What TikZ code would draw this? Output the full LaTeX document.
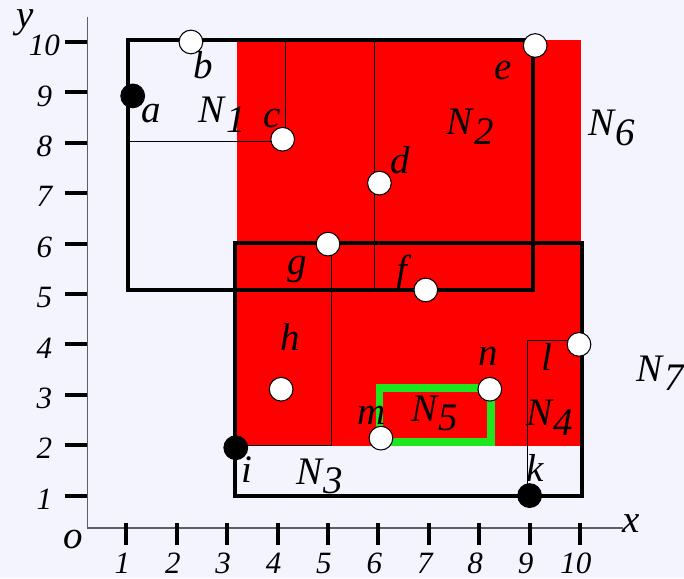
\documentclass[tikz,border=0pt]{standalone}
\usepackage{fontspec}
\setmainfont{Liberation Serif}
\usetikzlibrary{positioning}
\definecolor{bgpaper}{RGB}{244,244,255}
\definecolor{boxgreen}{RGB}{30,230,30}
\definecolor{axisgray}{RGB}{95,95,95}
\newcommand{\Nsub}[1]{N\kern0.04em\raisebox{-0.25em}{#1}}

\begin{document}
\begin{tikzpicture}[
  pt/.style={circle, draw=black, line width=0.6pt, minimum size=0.47cm, inner sep=0pt},
  openpt/.style={pt, fill=white},
  fullpt/.style={pt, fill=black},
  lbl/.style={font=\fontsize{22}{22}\selectfont\itshape, inner sep=0pt},
  ticklbl/.style={font=\fontsize{17.5}{17.5}\selectfont\itshape, inner sep=0pt},
  thinline/.style={line width=0.6pt},
  thickline/.style={line width=2.3pt},
  tickmark/.style={line width=2.2pt},
  axisline/.style={axisgray, line width=0.8pt}
]
\fill[bgpaper] (-1.508,-0.635) rectangle (12.063,10.833);
\useasboundingbox (-1.508,-0.635) rectangle (12.063,10.833);

\coordinate (o) at (0.225,0.36);
\coordinate (ytop) at (0.225,10.5);
\coordinate (xend) at (10.85,0.36);
\draw[axisline] (ytop) -- (o) -- (xend);
\foreach \k in {1,...,10} {
  \draw[tickmark] (-0.22,\k) -- (0.225,\k);
  \node[ticklbl] at (-0.63,\k-0.07) {\k};
  \draw[tickmark] (\k,0.46) -- (\k,0.02);
  \node[ticklbl] at (\k-0.08,-0.34) {\k};
}
\node[lbl] (olbl) at (-0.06,0.12) {o};
\node[lbl] (xlbl) at (11.02,0.44) {x};
\node[lbl] (ylbl) at (-1.01,10.38) {y};

\fill[red] (3.19,1.99) rectangle (10.02,10.04);

\draw[thinline] (1.04,8.02) -- (4.16,8.02) -- (4.16,10.04);
\draw[thinline] (5.93,10.04) -- (5.93,5.08);
\draw[thinline] (3.15,1.99) rectangle (5.06,6.02);
\draw[thinline] (8.96,1.0) -- (8.96,4.07) -- (10.03,4.07);

\draw[thickline] (1.04,5.08) rectangle (9.06,10.04);
\draw[thickline] (3.15,1.0) rectangle (10.03,6.02);
\draw[boxgreen, line width=4.4pt] (6.02,2.07) rectangle (8.23,3.14);

\node[fullpt] (a) at (1.125,8.93) {};
\node[openpt] (b) at (2.28,10.0) {};
\node[openpt] (c) at (4.1,8.07) {};
\node[openpt] (d) at (6.02,7.2) {};
\node[openpt] (e) at (9.11,9.93) {};
\node[openpt] (f) at (6.94,5.08) {};
\node[openpt] (g) at (5.0,5.99) {};
\node[openpt] (h) at (4.07,3.11) {};
\node[fullpt] (i) at (3.17,1.95) {};
\node[fullpt] (k) at (9.0,1.0) {};
\node[openpt] (l) at (9.98,4.0) {};
\node[openpt] (m) at (6.05,2.14) {};
\node[openpt] (n) at (8.21,3.11) {};

\node[lbl] (la) at (1.50,8.59) {a};
\node[lbl] (lb) at (2.52,9.54) {b};
\node[lbl] (lc) at (3.90,8.49) {c};
\node[lbl] (ld) at (6.43,7.66) {d};
\node[lbl] (le) at (8.48,9.44) {e};
\node[lbl] (lf) at (6.46,5.41) {f};
\node[lbl] (lg) at (4.38,5.48) {g};
\node[lbl] (lh) at (4.26,4.15) {h};
\node[lbl] (li) at (3.39,1.51) {i};
\node[lbl] (lk) at (9.11,1.54) {k};
\node[lbl] (ll) at (9.35,3.76) {l};
\node[lbl] (lm) at (5.87,2.60) {m};
\node[lbl] (ln) at (8.18,3.76) {n};

\node[lbl] (N1) at (2.90,8.55) {\Nsub{1}};
\node[lbl] (N2) at (7.82,8.32) {\Nsub{2}};
\node[lbl] (N3) at (4.84,1.38) {\Nsub{3}};
\node[lbl] (N4) at (9.40,2.54) {\Nsub{4}};
\node[lbl] (N5) at (7.12,2.63) {\Nsub{5}};
\node[lbl] (N6) at (10.63,8.29) {\Nsub{6}};
\node[lbl] (N7) at (11.59,3.43) {\Nsub{7}};
\end{tikzpicture}
\end{document}
